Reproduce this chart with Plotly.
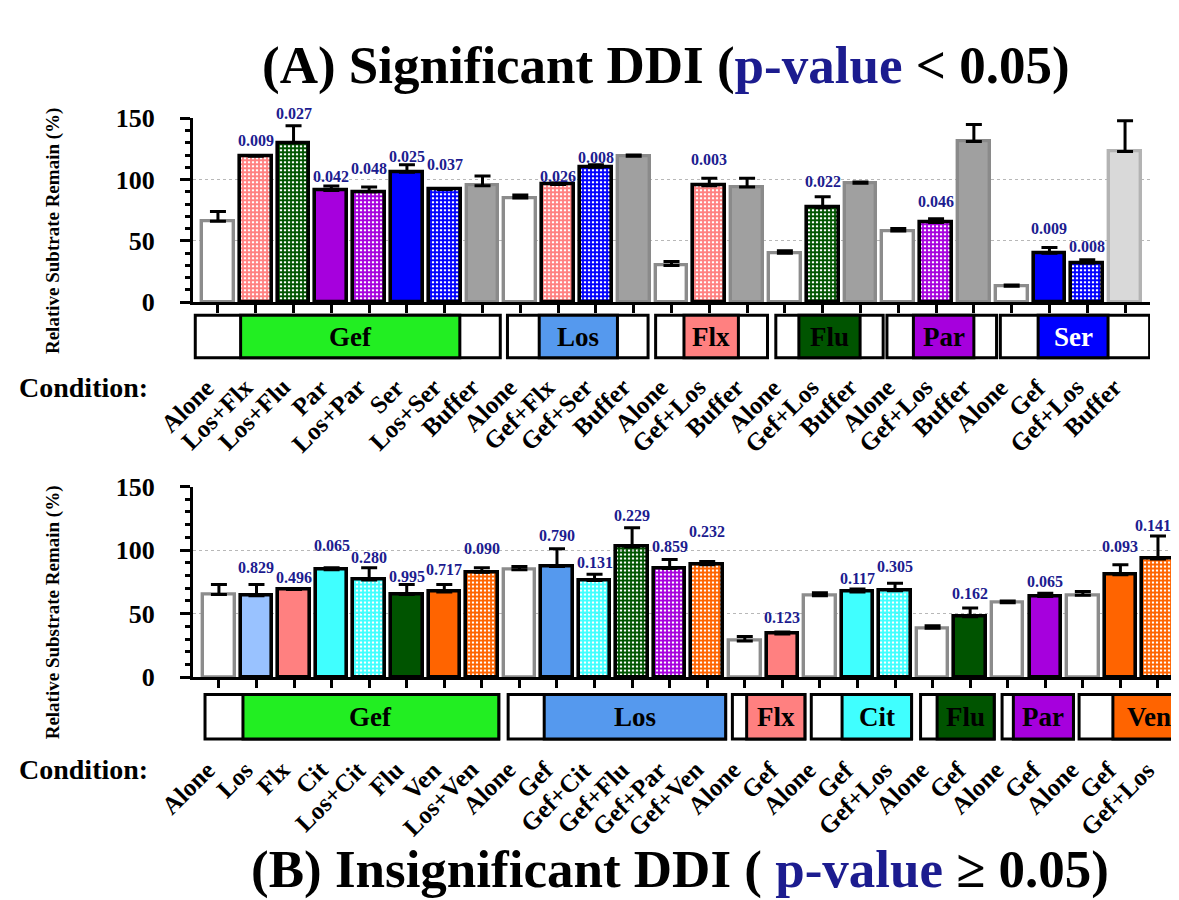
import plotly.graph_objects as go

# ---------------- DATA ----------------
top_labels = ["Alone", "Los+Flx", "Los+Flu", "Par", "Los+Par", "Ser", "Los+Ser", "Buffer",
              "Alone", "Gef+Flx", "Gef+Ser", "Buffer",
              "Alone", "Gef+Los", "Buffer",
              "Alone", "Gef+Los", "Buffer",
              "Alone", "Gef+Los", "Buffer",
              "Alone", "Gef", "Gef+Los", "Buffer"]
top_values = [66, 119, 130, 91, 90, 106, 92, 95,
              85, 96, 110, 119,
              30, 95, 94,
              40, 77, 97,
              58, 65, 131,
              13, 40, 32, 123]
top_errors = [8, 0.6, 14, 3.7, 4, 6, 0, 8,
              2.4, 1.2, 2, 1,
              3.2, 6, 7,
              2, 9, 1,
              2, 3, 14,
              1, 4.5, 2.7, 25]
top_pvalues = ["", "0.009", "0.027", "0.042", "0.048", "0.025", "0.037", "",
               "", "0.026", "0.008", "",
               "", "0.003", "",
               "", "0.022", "",
               "", "0.046", "",
               "", "0.009", "0.008", ""]
top_styles = ["alone", "Flx*", "Flu*", "Par", "Par*", "Ser", "Ser*", "buffer",
              "alone", "Flx*", "Ser*", "buffer",
              "alone", "Flx*", "buffer",
              "alone", "Flu*", "buffer",
              "alone", "Par*", "buffer",
              "alone", "Ser", "Ser*", "buffer_light"]
top_group_names = ["Gef", "Los", "Flx", "Flu", "Par", "Ser"]

bot_labels = ["Alone", "Los", "Flx", "Cit", "Los+Cit", "Flu", "Ven", "Los+Ven",
              "Alone", "Gef", "Gef+Cit", "Gef+Flu", "Gef+Par", "Gef+Ven",
              "Alone", "Gef",
              "Alone", "Gef", "Gef+Los",
              "Alone", "Gef",
              "Alone", "Gef",
              "Alone", "Gef", "Gef+Los"]
bot_values = [65, 64, 69, 84.5, 76.5, 65, 67, 82.5,
              84.5, 87, 76, 102.5, 85.5, 88.5,
              28.5, 34,
              64, 67, 68,
              38.5, 47.5,
              58.5, 63.5,
              64.5, 80.5, 93]
bot_errors = [8, 9, 0.5, 1.5, 9.5, 8, 6, 3.5,
              2.5, 14, 5, 15, 7, 2.5,
              3.5, 1.5,
              2.5, 2.3, 6,
              2, 7,
              1.5, 2.6,
              3, 8, 18]
bot_pvalues = ["", "0.829", "0.496", "0.065", "0.280", "0.995", "0.717", "0.090",
               "", "0.790", "0.131", "0.229", "0.859", "0.232",
               "", "0.123",
               "", "0.117", "0.305",
               "", "0.162",
               "", "0.065",
               "", "0.093", "0.141"]
bot_styles = ["alone", "LosLight", "Flx", "Cit", "Cit*", "Flu", "Ven", "Ven*",
              "alone", "Los", "Cit*", "Flu*", "Par*", "Ven*",
              "alone", "Flx",
              "alone", "Cit", "Cit*",
              "alone", "Flu",
              "alone", "Par",
              "alone", "Ven", "Ven*"]
bot_group_names = ["Gef", "Los", "Flx", "Cit", "Flu", "Par", "Ven"]

# ---------------- LAYOUT / STYLE ----------------
W, H = 1179, 900
YMAX = 150
FONT = "Liberation Serif, Times New Roman, serif"
NAVY = "#1c1c8f"
DRUG = {"Gef": "#22ee22", "Los": "#5599ee", "LosLight": "#99c2ff", "Flx": "#ff8080",
        "Flu": "#005400", "Par": "#a600dd", "Ser": "#0000ff", "Cit": "#40ffff",
        "Ven": "#ff6400"}
BOX_TEXT = {"Ser": "white"}
# group box edges in category units: (outer left, colour left, colour right, outer right)
top_box_edges = [(-0.6, 0.6, 6.4, 7.47), (7.66, 8.5, 10.57, 11.38), (11.58, 12.33, 13.77, 14.54),
                 (14.76, 15.37, 16.99, 17.6), (17.7, 18.4, 20.0, 20.6), (20.7, 21.7, 23.55, 24.65)]
bot_box_edges = [(-0.37, 0.64, 7.45, 7.45), (7.7, 8.66, 13.49, 13.49), (13.67, 14.05, 15.6, 15.6),
                 (15.77, 16.59, 18.44, 18.44), (18.68, 19.12, 20.64, 20.64),
                 (20.85, 21.15, 22.75, 22.75), (22.9, 23.8, 25.7, 25.7)]
# vertical gap (axis units) between error-bar top and the centre of each p-value label
top_label_gap = [0, 12.6, 10, 8.2, 15, 6.5, 20, 0, 0, 5.5, 6, 0, 0, 15, 0, 0, 12.4, 0,
                 0, 14.2, 0, 0, 15.5, 11, 0]
bot_label_gap = [0, 13.5, 8.6, 18, 8, 6.4, 11.5, 15, 0, 10.7, 9.3, 9.6, 10, 23.5, 0, 11.7,
                 0, 8.4, 12.7, 0, 11.5, 0, 9.4, 0, 14.5, 8.4]


def px(x):
    return x / W


def py(y):
    return 1 - y / H


def bar_style(keys):
    fill, line, lw, shape, bg = [], [], [], [], []
    for k in keys:
        if k == "alone":
            fill.append("white"); line.append("#8c8c8c"); lw.append(3.4); shape.append(""); bg.append("white")
        elif k == "buffer":
            fill.append("#a0a0a0"); line.append("#8a8a8a"); lw.append(3.4); shape.append(""); bg.append("#a0a0a0")
        elif k == "buffer_light":
            fill.append("#d9d9d9"); line.append("#b3b3b3"); lw.append(3.4); shape.append(""); bg.append("#d9d9d9")
        else:
            chk = k.endswith("*")
            c = DRUG[k.rstrip("*")]
            fill.append(c); line.append("black"); lw.append(3.6)
            shape.append("+" if chk else ""); bg.append(c)
    return fill, line, lw, shape, bg


def add_bars(values, errors, styles, xa, ya):
    fill, line, lw, shape, bg = bar_style(styles)
    fig.add_trace(go.Bar(
        x=list(range(len(values))), y=values, xaxis=xa, yaxis=ya, width=0.84,
        marker=dict(color=fill, line=dict(color=line, width=lw),
                    pattern=dict(shape=shape, fgcolor="black", bgcolor=bg, fgopacity=1,
                                 fillmode="replace", size=4, solidity=0.7)),
        error_y=dict(type="data", symmetric=False, array=errors,
                     arrayminus=[0] * len(values), color="black", thickness=3, width=8),
        showlegend=False, hoverinfo="skip"))


fig = go.Figure()
add_bars(top_values, top_errors, top_styles, "x", "y")
add_bars(bot_values, bot_errors, bot_styles, "x2", "y2")

ann = []
shapes = []


def decorate(labels, values, errors, pvals, gaps, names, edges, xref, box_top, box_bot, lab_y):
    yref = xref.replace("x", "y") + " domain"
    n = len(values)
    for i, p in enumerate(pvals):
        if p:
            ann.append(dict(x=i, y=(values[i] + errors[i] + gaps[i]) / YMAX, xref=xref, yref=yref,
                            text=p, showarrow=False, yanchor="middle", xanchor="center",
                            xshift=-5 if i == n - 1 else 0,
                            font=dict(family=FONT, size=16, color=NAVY, weight="bold")))
    for i, t in enumerate(labels):
        ann.append(dict(x=i, y=py(lab_y), xref=xref, yref="paper", text=t, showarrow=False,
                        textangle=-45, xanchor="right", yanchor="top", xshift=3, borderpad=0,
                        font=dict(family=FONT, size=25, color="black", weight="bold")))
    for name, (x0, cx0, cx1, x1) in zip(names, edges):
        shapes.append(dict(type="rect", xref=xref, yref="paper", x0=x0, x1=x1,
                           y0=py(box_bot), y1=py(box_top), fillcolor="white",
                           line=dict(color="black", width=3)))
        shapes.append(dict(type="rect", xref=xref, yref="paper", x0=cx0, x1=cx1,
                           y0=py(box_bot), y1=py(box_top), fillcolor=DRUG[name],
                           line=dict(color="black", width=3)))
        ann.append(dict(x=(cx0 + cx1) / 2, y=py((box_top + box_bot) / 2), xref=xref, yref="paper",
                        text=name, showarrow=False, xanchor="center", yanchor="middle",
                        font=dict(family=FONT, size=27, color=BOX_TEXT.get(name, "black"),
                                  weight="bold")))


decorate(top_labels, top_values, top_errors, top_pvalues, top_label_gap, top_group_names,
         top_box_edges, "x", 303, 347, 362)
decorate(bot_labels, bot_values, bot_errors, bot_pvalues, bot_label_gap, bot_group_names,
         bot_box_edges, "x2", 695, 741, 757)

for yy in (378, 772):
    ann.append(dict(x=px(76), y=py(yy), xref="paper", yref="paper", text="Condition:",
                    showarrow=False, xanchor="center", yanchor="middle",
                    font=dict(family=FONT, size=28, color="black", weight="bold")))

ann.append(dict(x=px(45), y=py(216), xref="paper", yref="paper", text="Relative Subtrate Remain (%)",
                showarrow=False, textangle=-90, xanchor="center", yanchor="middle",
                font=dict(family=FONT, size=19, color="black", weight="bold")))
ann.append(dict(x=px(45), y=py(610), xref="paper", yref="paper", text="Relative Substrate Remain (%)",
                showarrow=False, textangle=-90, xanchor="center", yanchor="middle",
                font=dict(family=FONT, size=19, color="black", weight="bold")))

ann.append(dict(x=px(658), y=py(45), xref="paper", yref="paper",
                text="(A) Significant DDI (<span style='color:%s'>p-value</span> &lt; 0.05)" % NAVY,
                showarrow=False, xanchor="center", yanchor="middle",
                font=dict(family=FONT, size=53, color="black", weight="bold")))
ann.append(dict(x=px(672), y=py(876), xref="paper", yref="paper",
                text="(B) Insignificant DDI ( <span style='color:%s'>p-value</span> ≥ 0.05)" % NAVY,
                showarrow=False, xanchor="center", yanchor="middle",
                font=dict(family=FONT, size=53, color="black", weight="bold")))

xaxis_common = dict(showline=True, linecolor="black", linewidth=3, ticks="outside",
                    ticklen=8, tickwidth=2.5, tickcolor="black", showticklabels=False,
                    showgrid=False, zeroline=False)
yaxis_common = dict(range=[0, YMAX], tickvals=[0, 50, 100, 150], showline=True, linecolor="black",
                    linewidth=3, ticks="outside", ticklen=10, tickwidth=3, tickcolor="black",
                    minor=dict(dtick=10, ticks="outside", ticklen=5, tickwidth=2.5, tickcolor="black"),
                    showgrid=True, gridcolor="#b8b8b8", griddash="dot", gridwidth=1,
                    zeroline=False, ticklabelstandoff=20,
                    tickfont=dict(family=FONT, size=26, color="black", weight="bold"))

fig.update_layout(
    width=W, height=H, margin=dict(l=0, r=0, t=0, b=0),
    paper_bgcolor="white", plot_bgcolor="white", bargap=0,
    xaxis=dict(domain=[px(185), px(1142)], range=[-0.66, 24.66], anchor="y",
               tickvals=list(range(len(top_values))), **xaxis_common),
    yaxis=dict(domain=[py(289.5), py(99.5)], anchor="x", **yaxis_common),
    xaxis2=dict(domain=[px(185), px(1171)], range=[-0.69, 25.56], anchor="y2",
                tickvals=list(range(len(bot_values))), **xaxis_common),
    yaxis2=dict(domain=[py(677), py(480)], anchor="x2", **yaxis_common),
    annotations=ann, shapes=shapes,
)

fig.write_html("out.html")
